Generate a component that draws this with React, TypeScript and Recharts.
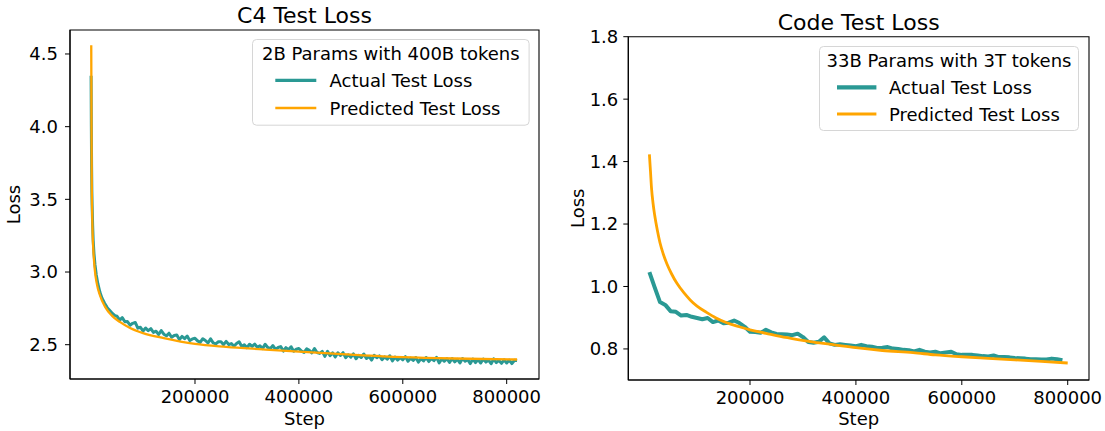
import React from 'react';
import { LineChart, Line, XAxis, YAxis, ReferenceArea, Legend } from 'recharts';

const TEAL = '#2a9994';
const ORANGE = '#ffa500';
const FONT = '"DejaVu Sans", sans-serif';

// ---------- C4 (left) ----------
const c4ActualSteps = [
  0, 500, 1000, 1500, 2000, 3000, 4000, 5500, 7500, 10000, 13000, 17000, 21000, 26000, 31000, 36000, 41000, 46000,
  50000, 55000, 60000, 65000, 70000, 75000, 80000, 85000, 90000, 95000,
  100000, 105000, 110000, 115000, 120000, 125000, 130000, 135000, 140000, 145000,
  150000, 155000, 160000, 165000, 170000, 175000, 180000, 185000, 190000, 195000,
  200000, 205000, 210000, 215000, 220000, 225000, 230000, 235000, 240000, 245000,
  250000, 255000, 260000, 265000, 270000, 275000, 280000, 285000, 290000, 295000,
  300000, 305000, 310000, 315000, 320000, 325000, 330000, 335000, 340000, 345000,
  350000, 355000, 360000, 365000, 370000, 375000, 380000, 385000, 390000, 395000,
  400000, 405000, 410000, 415000, 420000, 425000, 430000, 435000, 440000, 445000,
  450000, 455000, 460000, 465000, 470000, 475000, 480000, 485000, 490000, 495000,
  500000, 505000, 510000, 515000, 520000, 525000, 530000, 535000, 540000, 545000,
  550000, 555000, 560000, 565000, 570000, 575000, 580000, 585000, 590000, 595000,
  600000, 605000, 610000, 615000, 620000, 625000, 630000, 635000, 640000, 645000,
  650000, 655000, 660000, 665000, 670000, 675000, 680000, 685000, 690000, 695000,
  700000, 705000, 710000, 715000, 720000, 725000, 730000, 735000, 740000, 745000,
  750000, 755000, 760000, 765000, 770000, 775000, 780000, 785000, 790000, 795000,
  800000, 805000, 810000, 815000, 820000,
];
const c4ActualLoss = [
  4.35, 4.0, 3.72, 3.55, 3.46, 3.32, 3.22, 3.13, 3.05, 2.98, 2.92, 2.86, 2.82, 2.785, 2.755, 2.735, 2.715, 2.7,
  2.696, 2.669, 2.686, 2.658, 2.659, 2.634, 2.647, 2.653, 2.614, 2.62,
  2.594, 2.615, 2.597, 2.61, 2.585, 2.593, 2.57, 2.597, 2.572, 2.561,
  2.579, 2.551, 2.563, 2.567, 2.535, 2.557, 2.542, 2.56, 2.528, 2.54,
  2.544, 2.526, 2.516, 2.541, 2.529, 2.512, 2.54, 2.513, 2.506, 2.52,
  2.521, 2.5, 2.523, 2.501, 2.508, 2.489, 2.508, 2.52, 2.487, 2.499,
  2.479, 2.503, 2.488, 2.504, 2.482, 2.493, 2.473, 2.503, 2.481, 2.473,
  2.494, 2.468, 2.481, 2.487, 2.456, 2.48, 2.466, 2.486, 2.455, 2.469,
  2.474, 2.456, 2.447, 2.472, 2.461, 2.444, 2.473, 2.446, 2.44, 2.454,
  2.42, 2.454, 2.425, 2.444, 2.415, 2.444, 2.426, 2.445, 2.411, 2.431,
  2.414, 2.437, 2.403, 2.427, 2.412, 2.436, 2.405, 2.42, 2.394, 2.427,
  2.41, 2.423, 2.397, 2.416, 2.4, 2.424, 2.389, 2.415, 2.394, 2.411,
  2.396, 2.418, 2.386, 2.408, 2.392, 2.412, 2.38, 2.404, 2.388, 2.412,
  2.384, 2.405, 2.39, 2.413, 2.375, 2.402, 2.386, 2.404, 2.378, 2.405,
  2.382, 2.4, 2.374, 2.405, 2.386, 2.397, 2.37, 2.401, 2.377, 2.398,
  2.374, 2.401, 2.38, 2.394, 2.369, 2.402, 2.377, 2.392, 2.372, 2.396,
  2.374, 2.394, 2.37, 2.393, 2.391,
];
const c4PredSteps = [
  300, 800, 1200, 2000, 3000, 4500, 7000, 11000, 17000, 27000, 40000, 56000, 75000, 100000,
  140000, 200000, 260000, 330000, 400000, 500000, 600000, 700000, 820000,
];
const c4PredLoss = [
  4.56, 4.0, 3.66, 3.42, 3.26, 3.14, 3.02, 2.92, 2.84, 2.76, 2.7, 2.655, 2.615, 2.58,
  2.545, 2.505, 2.485, 2.468, 2.452, 2.432, 2.415, 2.405, 2.398,
];
const c4XTicks = [200000, 400000, 600000, 800000];
const c4YTicks = [2.5, 3.0, 3.5, 4.0, 4.5];

// ---------- Code (right) ----------
const codeActualSteps = [
  10000, 20000, 30000, 40000, 50000, 60000, 70000, 80000, 90000,
  100000, 110000, 120000, 130000, 140000, 150000, 160000, 170000, 180000, 190000,
  200000, 210000, 220000, 230000, 240000, 250000, 260000, 270000, 280000, 290000,
  300000, 310000, 320000, 330000, 340000, 350000, 360000, 370000, 380000, 390000,
  400000, 410000, 420000, 430000, 440000, 450000, 460000, 470000, 480000, 490000,
  500000, 510000, 520000, 530000, 540000, 550000, 560000, 570000, 580000, 590000,
  600000, 610000, 620000, 630000, 640000, 650000, 660000, 670000, 680000, 690000,
  700000, 710000, 720000, 730000, 740000, 750000, 760000, 770000, 780000, 790000,
];
const codeActualLoss = [
  1.046, 0.997, 0.95, 0.941, 0.921, 0.919, 0.907, 0.909, 0.903,
  0.899, 0.895, 0.899, 0.886, 0.891, 0.882, 0.884, 0.891, 0.883, 0.871,
  0.855, 0.854, 0.852, 0.861, 0.853, 0.848, 0.847, 0.846, 0.844, 0.849,
  0.838, 0.822, 0.82, 0.823, 0.837, 0.818, 0.813, 0.815, 0.813, 0.811,
  0.809, 0.813, 0.809, 0.807, 0.803, 0.804, 0.806, 0.801, 0.8, 0.797,
  0.796, 0.792, 0.797, 0.791, 0.789, 0.791, 0.786, 0.789, 0.791, 0.783,
  0.781, 0.781, 0.781, 0.779, 0.777, 0.776, 0.779, 0.774, 0.774, 0.773,
  0.771, 0.77, 0.769, 0.767, 0.767, 0.766, 0.766, 0.769, 0.767, 0.764,
];
const codePredSteps = [
  10000, 12000, 14000, 17000, 20000, 25000, 30000, 36000, 43000, 52000, 62000, 75000, 87000,
  100000, 118000, 135000, 156000, 180000, 200000, 230000, 257000, 290000, 320000, 360000,
  400000, 450000, 508000, 550000, 600000, 650000, 700000, 750000, 800000,
];
const codePredLoss = [
  1.423, 1.37, 1.315, 1.265, 1.228, 1.18, 1.14, 1.105, 1.073, 1.04, 1.01, 0.98, 0.957,
  0.937, 0.917, 0.9, 0.884, 0.871, 0.861, 0.85, 0.84, 0.83, 0.822, 0.813,
  0.804, 0.795, 0.788, 0.781, 0.775, 0.77, 0.765, 0.76, 0.755,
];
const codeXTicks = [200000, 400000, 600000, 800000];
const codeYTicks = [0.8, 1.0, 1.2, 1.4, 1.6, 1.8];

const zip = (steps: number[], vals: number[]) => steps.map((s, i) => ({ step: s, loss: vals[i] }));

const tickStyle = { fontSize: 18, fill: '#000', fontFamily: FONT };

function YLabel({ cx, cy }: { cx: number; cy: number }) {
  return (
    <text
      x={cx}
      y={cy}
      transform={`rotate(-90, ${cx}, ${cy})`}
      textAnchor="middle"
      dy="0.355em"
      fontSize={18}
      fontFamily={FONT}
      fill="#000"
    >
      Loss
    </text>
  );
}

type LegendProps = {
  title: string;
  w: number;
  h: number;
  titleY: number;
  lx1: number;
  lx2: number;
  tx: number;
  rowY: number[];
  widths: number[];
};

function LegendBox({ title, w, h, titleY, lx1, lx2, tx, rowY, widths }: LegendProps) {
  const items = [
    { label: 'Actual Test Loss', color: TEAL },
    { label: 'Predicted Test Loss', color: ORANGE },
  ];
  return (
    <svg width={w} height={h} style={{ display: 'block', overflow: 'visible' }}>
      <rect x={0.5} y={0.5} width={w - 1} height={h - 1} rx={4} ry={4} fill="#fff" fillOpacity={0.8} stroke="#d6d6d6" strokeWidth={1} />
      <text x={w / 2} y={titleY} textAnchor="middle" fontSize={18} fontFamily={FONT} fill="#000">
        {title}
      </text>
      {items.map((it, i) => (
        <g key={it.label}>
          <line x1={lx1} x2={lx2} y1={rowY[i]} y2={rowY[i]} stroke={it.color} strokeWidth={widths[i]} />
          <text x={tx} y={rowY[i] + 6.6} fontSize={18} fontFamily={FONT} fill="#000">
            {it.label}
          </text>
        </g>
      ))}
    </svg>
  );
}

export default function App() {
  const c4Actual = zip(c4ActualSteps, c4ActualLoss);
  const c4Pred = zip(c4PredSteps, c4PredLoss);
  const codeActual = zip(codeActualSteps, codeActualLoss);
  const codePred = zip(codePredSteps, codePredLoss);

  const c4XDomain: [number, number] = [-40600, 862200];
  const c4YDomain: [number, number] = [2.264, 4.665];
  const codeXDomain: [number, number] = [-29840, 840200];
  const codeYDomain: [number, number] = [0.7005, 1.8];

  return (
    <div style={{ position: 'absolute', left: 0, top: 0, width: 1105, height: 431, background: '#fff', fontFamily: FONT }}>
      <div style={{ position: 'absolute', left: 0, top: 0 }}>
        <LineChart width={552} height={431} margin={{ top: 30, right: 13, bottom: 0, left: 0 }}>
          <XAxis
            type="number"
            dataKey="step"
            domain={c4XDomain}
            allowDataOverflow
            ticks={c4XTicks}
            interval={0}
            tick={tickStyle}
            tickSize={5}
            tickMargin={6.5}
            height={52}
            axisLine={{ stroke: '#000', strokeWidth: 1.1 }}
            tickLine={{ stroke: '#000', strokeWidth: 1 }}
            label={{ value: 'Step', position: 'insideBottom', offset: 6, fontSize: 18, fontFamily: FONT, fill: '#000' }}
          />
          <YAxis
            type="number"
            domain={c4YDomain}
            allowDataOverflow
            ticks={c4YTicks}
            interval={0}
            tickFormatter={(v: number) => v.toFixed(1)}
            tick={tickStyle}
            tickSize={5}
            tickMargin={7}
            width={70}
            axisLine={{ stroke: '#000', strokeWidth: 1.1 }}
            tickLine={{ stroke: '#000', strokeWidth: 1 }}
            label={<YLabel cx={13.5} cy={204.5} />}
          />
          <ReferenceArea
            x1={c4XDomain[0]}
            x2={c4XDomain[1]}
            y1={c4YDomain[0]}
            y2={c4YDomain[1]}
            fill="none"
            stroke="#000"
            strokeWidth={1.1}
            ifOverflow="visible"
            label={{ value: 'C4 Test Loss', position: 'top', offset: 6.7, fontSize: 22, fontFamily: FONT, fill: '#000' }}
          />
          <Line data={c4Actual} dataKey="loss" type="linear" stroke={TEAL} strokeWidth={3} dot={false} isAnimationActive={false} strokeLinejoin="round" name="Actual Test Loss" />
          <Line data={c4Pred} dataKey="loss" type="monotone" stroke={ORANGE} strokeWidth={2.3} dot={false} isAnimationActive={false} name="Predicted Test Loss" />
          <Legend
            layout="vertical"
            align="center"
            verticalAlign="middle"
            wrapperStyle={{ left: 251.7, top: 39.3, width: 277.6, height: 86.7 }}
            content={() => (
              <LegendBox title="2B Params with 400B tokens" w={277.6} h={86.7} titleY={21.4} lx1={23.3} lx2={64.3} tx={77.6} rowY={[41.4, 69]} widths={[3.3, 2.3]} />
            )}
          />
        </LineChart>
      </div>
      <div style={{ position: 'absolute', left: 552, top: 0 }}>
        <LineChart width={553} height={431} margin={{ top: 36.7, right: 16, bottom: 0, left: 0 }}>
          <XAxis
            type="number"
            dataKey="step"
            domain={codeXDomain}
            allowDataOverflow
            ticks={codeXTicks}
            interval={0}
            tick={tickStyle}
            tickSize={5}
            tickMargin={6}
            height={51}
            axisLine={{ stroke: '#000', strokeWidth: 1.1 }}
            tickLine={{ stroke: '#000', strokeWidth: 1 }}
            label={{ value: 'Step', position: 'insideBottom', offset: 6, fontSize: 18, fontFamily: FONT, fill: '#000' }}
          />
          <YAxis
            type="number"
            domain={codeYDomain}
            allowDataOverflow
            ticks={codeYTicks}
            interval={0}
            tickFormatter={(v: number) => v.toFixed(1)}
            tick={tickStyle}
            tickSize={5}
            tickMargin={5}
            width={76.3}
            axisLine={{ stroke: '#000', strokeWidth: 1.1 }}
            tickLine={{ stroke: '#000', strokeWidth: 1 }}
            label={<YLabel cx={25.5} cy={208.3} />}
          />
          <ReferenceArea
            x1={codeXDomain[0]}
            x2={codeXDomain[1]}
            y1={codeYDomain[0]}
            y2={codeYDomain[1]}
            fill="none"
            stroke="#000"
            strokeWidth={1.1}
            ifOverflow="visible"
            label={{ value: 'Code Test Loss', position: 'top', offset: 6.7, fontSize: 22, fontFamily: FONT, fill: '#000' }}
          />
          <Line data={codeActual} dataKey="loss" type="linear" stroke={TEAL} strokeWidth={4} dot={false} isAnimationActive={false} strokeLinejoin="round" name="Actual Test Loss" />
          <Line data={codePred} dataKey="loss" type="monotone" stroke={ORANGE} strokeWidth={2.8} dot={false} isAnimationActive={false} name="Predicted Test Loss" />
          <Legend
            layout="vertical"
            align="center"
            verticalAlign="middle"
            wrapperStyle={{ left: 267.3, top: 46, width: 260, height: 85 }}
            content={() => (
              <LegendBox title="33B Params with 3T tokens" w={260} h={85} titleY={21.3} lx1={18} lx2={57.4} tx={70} rowY={[41.3, 68]} widths={[4.3, 2.8]} />
            )}
          />
        </LineChart>
      </div>
    </div>
  );
}
